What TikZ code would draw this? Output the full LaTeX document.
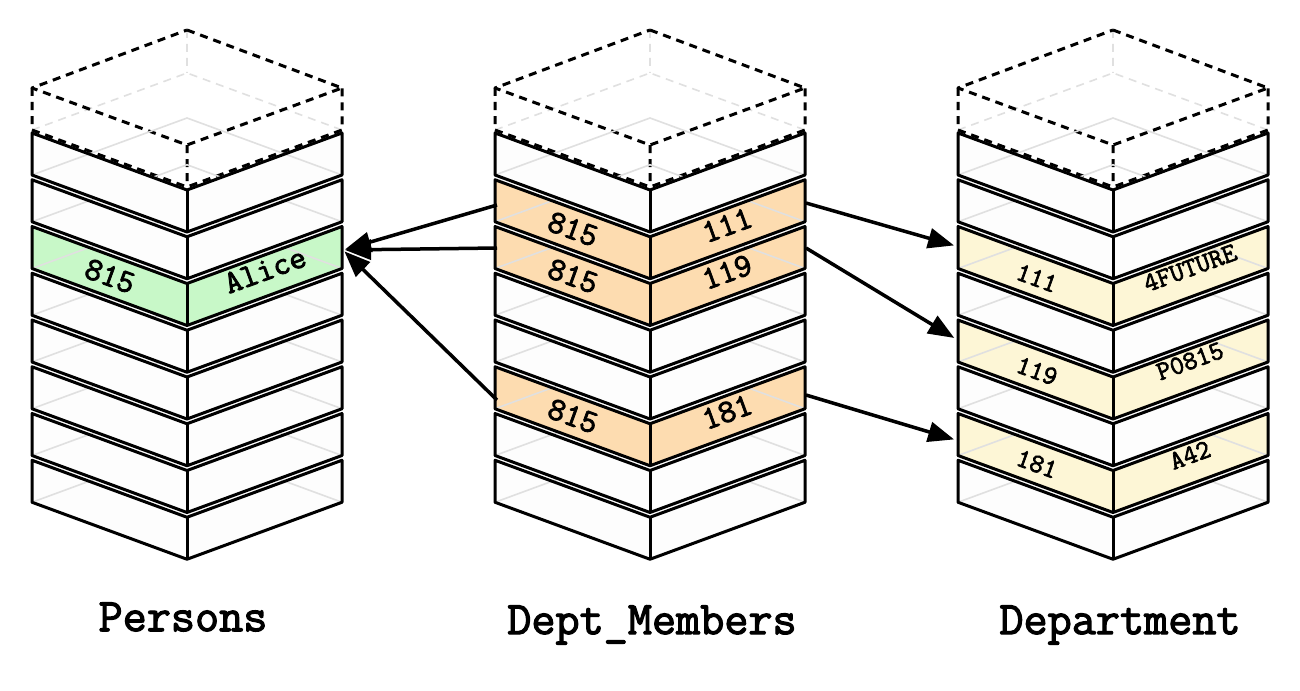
\documentclass[tikz,border=0pt]{standalone}
\usepackage{fontspec}
\setmonofont[AutoFakeBold=2.5]{Latin Modern Mono}
\usetikzlibrary{arrows.meta}
\definecolor{slabw}{HTML}{FDFDFD}
\definecolor{pgreen}{HTML}{C8F8C8}
\definecolor{porange}{HTML}{FDDCB0}
\definecolor{pyellow}{HTML}{FDF6D6}
\tikzset{
  edge/.style={line width=3bp, line join=round, black},
  backline/.style={line width=1.6bp, black!12},
  val/.style={font=\ttfamily\bfseries\fontsize{33}{33}\selectfont, inner sep=0},
  sval/.style={font=\ttfamily\bfseries\fontsize{27}{27}\selectfont, inner sep=0},
  title/.style={font=\ttfamily\bfseries\fontsize{47}{47}\selectfont, inner sep=0},
  link/.style={line width=3.5bp, -{Triangle[length=26bp,width=20bp]}, shorten >=2bp},
}
\newcommand{\myslab}[3]{% cx, ytop, fill
  \fill[#3] (#1-155,#2) -- (#1,#2+57) -- (#1+155,#2) -- (#1+155,#2+42) -- (#1,#2+99) -- (#1-155,#2+42) -- cycle;
  \draw[backline] (#1-155,#2+42) -- (#1,#2-15) -- (#1+155,#2+42);
  \draw[edge] (#1-155,#2) -- (#1,#2+57) -- (#1+155,#2) -- (#1+155,#2+42) -- (#1,#2+99) -- (#1-155,#2+42) -- cycle;
  \draw[edge] (#1,#2+57) -- (#1,#2+99);
}
\newcommand{\mytop}[1]{%
  \fill[white] (#1,30) -- (#1+155,88) -- (#1+155,130) -- (#1,187) -- (#1-155,130) -- (#1-155,88) -- cycle;
  \draw[backline,dashed,dash pattern=on 8bp off 6bp] (#1-155,130) -- (#1,73) -- (#1+155,130) (#1,30) -- (#1,73);
  \draw[edge,dash pattern=on 8bp off 6bp] (#1,30) -- (#1+155,88) -- (#1,145) -- (#1-155,88) -- cycle;
  \draw[edge,dash pattern=on 8bp off 6bp] (#1-155,88) -- (#1-155,130) -- (#1,187) -- (#1+155,130) -- (#1+155,88) (#1,145) -- (#1,187);
}
\begin{document}
\begin{tikzpicture}[x=1bp,y=-1bp]
\useasboundingbox (0,0) rectangle (1300,690);
\foreach \cx/\fa/\fb/\fc/\fd/\fe/\ff/\fg/\fh in {
  187/slabw/slabw/pgreen/slabw/slabw/slabw/slabw/slabw,
  650/slabw/porange/porange/slabw/slabw/porange/slabw/slabw,
  1113/slabw/slabw/pyellow/slabw/pyellow/slabw/pyellow/slabw}{
  \mytop{\cx}
  \myslab{\cx}{460.25}{\fh}
  \myslab{\cx}{413.5}{\fg}
  \myslab{\cx}{366.75}{\ff}
  \myslab{\cx}{320}{\fe}
  \myslab{\cx}{273.25}{\fd}
  \myslab{\cx}{226.5}{\fc}
  \myslab{\cx}{179.75}{\fb}
  \myslab{\cx}{133}{\fa}
}
% texts
\node[val,rotate=-20] (p1) at (110,276) {815};
\node[val,rotate=20] (p2) at (265,270) {Alice};
\node[val,rotate=-20] (m1) at (573,229) {815};
\node[val,rotate=20] (m2) at (727,225) {111};
\node[val,rotate=-20] (m3) at (573,276) {815};
\node[val,rotate=20] (m4) at (727,272) {119};
\node[val,rotate=-20] (m5) at (573,416) {815};
\node[val,rotate=20] (m6) at (727,412) {181};
\node[sval,rotate=-20] (d1) at (1037,278) {111};
\node[sval,rotate=20] (d2) at (1190,268) {4FUTURE};
\node[sval,rotate=-20] (d3) at (1037,371) {119};
\node[sval,rotate=20] (d4) at (1190,361) {P0815};
\node[sval,rotate=-20] (d5) at (1037,464) {181};
\node[sval,rotate=20] (d6) at (1190,455) {A42};
\node[title] (t1) at (183,617) {Persons};
\node[title] (t2) at (652,625) {Dept\_Members};
\node[title] (t3) at (1120,625) {Department};
% connectors
\coordinate (alice) at (343,250);
\coordinate (ma) at (497,205);
\coordinate (mb) at (497,248);
\coordinate (mc) at (497,400);
\coordinate (ra) at (806,203);
\coordinate (rb) at (806,248);
\coordinate (rc) at (806,395);
\coordinate (da) at (956,246);
\coordinate (db) at (956,339);
\coordinate (dc) at (956,440);
\draw[link] (ma) -- (alice);
\draw[link] (mb) -- (alice);
\draw[link] (mc) -- (alice);
\draw[link] (ra) -- (da);
\draw[link] (rb) -- (db);
\draw[link] (rc) -- (dc);
\end{tikzpicture}
\end{document}
